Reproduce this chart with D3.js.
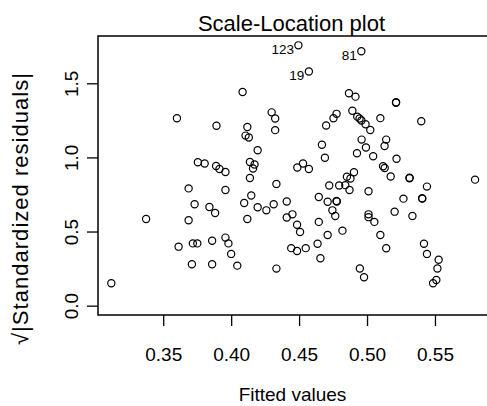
<!doctype html>
<html lang="en">
<head>
  <meta charset="utf-8">
  <title>Scale-Location plot</title>
  <style>
    body { margin: 0; background: #fff; }
    svg text { font-family: "Liberation Sans", Arial, sans-serif; fill: #000; }
    .pt { fill: none; stroke: #000; stroke-width: 1.2; }
  </style>
</head>
<body>
<div id="chart"></div>
<script src="https://d3js.org/d3.v7.min.js"></script>
<script>
  // fitted values (x) and sqrt(|standardized residuals|) (y)
  const fittedValues = [
    0.3118, 0.3374, 0.3601, 0.3613, 0.3687, 0.3687, 0.3711, 0.3718, 0.3751, 0.3731,
    0.3755, 0.3805, 0.3840, 0.3882, 0.3860, 0.3860, 0.3892, 0.3889, 0.3914, 0.3958,
    0.3958, 0.3958, 0.3980, 0.4000, 0.4045, 0.4084, 0.4096, 0.4106, 0.4130, 0.4119,
    0.4119, 0.4138, 0.4172, 0.4161, 0.4138, 0.4148, 0.4195, 0.4195, 0.4259, 0.4313,
    0.4298, 0.4324, 0.4324, 0.4333, 0.4333, 0.4409, 0.4409, 0.4451, 0.4442, 0.4485,
    0.4485, 0.4507, 0.4487, 0.4529, 0.4572, 0.4549, 0.4495, 0.4572, 0.4636, 0.4657,
    0.4645, 0.4645, 0.4668, 0.4690, 0.4699, 0.4710, 0.4710, 0.4722, 0.4745, 0.4766,
    0.4753, 0.4776, 0.4775, 0.4778, 0.4795, 0.4819, 0.4840, 0.4852, 0.4878, 0.4871,
    0.4867, 0.4915, 0.4892, 0.4904, 0.4926, 0.4928, 0.4945, 0.4959, 0.4958, 0.4960,
    0.4947, 0.4978, 0.4989, 0.4992, 0.5011, 0.5011, 0.5011, 0.5024, 0.5045, 0.5054,
    0.5098, 0.5098, 0.5118, 0.5130, 0.5129, 0.5141, 0.5141, 0.5174, 0.5203, 0.5214,
    0.5213, 0.5217, 0.5268, 0.5313, 0.5313, 0.5334, 0.5407, 0.5405, 0.5399, 0.5419,
    0.5441, 0.5441, 0.5486, 0.5510, 0.5518, 0.5527, 0.5795
  ];
  const sqrtStdResiduals = [
    0.151, 0.585, 1.264, 0.398, 0.791, 0.576, 0.279, 0.420, 0.420, 0.684,
    0.967, 0.959, 0.666, 0.625, 0.438, 0.279, 1.214, 0.942, 0.922, 0.902,
    0.780, 0.459, 0.420, 0.349, 0.270, 1.441, 0.693, 1.147, 1.134, 1.205,
    0.585, 0.969, 0.952, 0.925, 0.861, 0.743, 1.048, 0.664, 0.643, 0.684,
    1.304, 1.263, 1.184, 0.821, 0.250, 0.703, 0.595, 0.616, 0.388, 0.369,
    0.546, 0.497, 0.932, 0.959, 0.922, 0.388, 1.756, 1.580, 0.418, 0.320,
    0.733, 0.565, 1.085, 0.998, 1.215, 0.701, 0.477, 0.811, 0.643, 0.605,
    1.264, 1.294, 0.706, 0.702, 0.811, 0.506, 0.813, 0.870, 0.858, 0.780,
    1.433, 1.410, 1.315, 0.900, 1.028, 1.275, 1.262, 1.249, 1.716, 1.120,
    0.251, 0.192, 1.224, 1.067, 0.772, 0.616, 0.597, 1.185, 1.008, 0.565,
    1.265, 0.477, 0.940, 0.929, 1.077, 1.120, 0.387, 0.871, 0.634, 1.372,
    1.369, 0.991, 0.722, 0.859, 0.863, 0.605, 0.722, 0.725, 1.244, 0.418,
    0.803, 0.349, 0.151, 0.173, 0.251, 0.310, 0.850
  ];

  // the three labelled observations
  const idLabels = ['123', '19', '81'];
  const idFitted = [0.4495, 0.4572, 0.4958];
  const idResid = [1.756, 1.580, 1.716];

  // tick values
  const xTicks = [0.35, 0.40, 0.45, 0.50, 0.55];
  const yTicks = [0.0, 0.5, 1.0, 1.5];

  const width = 487;
  const height = 406;
  const plot = { left: 98, top: 36, right: 490, bottom: 315 };

  const svg = d3.select('#chart')
    .append('svg')
    .attr('width', width)
    .attr('height', height);

  const x = d3.scaleLinear()
    .domain([0.3020, 0.5905])
    .range([plot.left, plot.right]);

  const y = d3.scaleLinear()
    .domain([-0.063, 1.819])
    .range([plot.bottom, plot.top]);

  // x axis
  const xAxis = svg.append('g')
    .attr('transform', `translate(0,${plot.bottom})`)
    .call(d3.axisBottom(x).tickValues(xTicks).tickFormat(d3.format('.2f')).tickSize(11));
  xAxis.select('.domain').remove();
  xAxis.selectAll('line').attr('stroke', '#000').attr('stroke-width', 1.3);
  xAxis.selectAll('text')
    .attr('y', 46).attr('dy', 0)
    .style('font-size', '19px');

  // y axis, labels turned like R does
  const yAxis = svg.append('g')
    .attr('transform', `translate(${plot.left},0)`)
    .call(d3.axisLeft(y).tickValues(yTicks).tickFormat(d3.format('.1f')).tickSize(11));
  yAxis.select('.domain').remove();
  yAxis.selectAll('line').attr('stroke', '#000').attr('stroke-width', 1.3);
  yAxis.selectAll('text')
    .attr('transform', 'rotate(-90)')
    .attr('x', 0).attr('y', -20).attr('dy', 0)
    .attr('text-anchor', 'middle')
    .style('font-size', '19px');

  // plot box
  svg.append('rect')
    .attr('x', plot.left).attr('y', plot.top)
    .attr('width', plot.right - plot.left)
    .attr('height', plot.bottom - plot.top)
    .attr('fill', 'none').attr('stroke', '#000').attr('stroke-width', 1.5);

  // points
  svg.append('g')
    .selectAll('circle')
    .data(fittedValues)
    .join('circle')
    .attr('class', 'pt')
    .attr('cx', d => x(d))
    .attr('cy', (d, i) => y(sqrtStdResiduals[i]))
    .attr('r', 3.6);

  // id labels to the left of their points
  svg.append('g')
    .selectAll('text')
    .data(idLabels)
    .join('text')
    .attr('x', (d, i) => x(idFitted[i]) - 4.5)
    .attr('y', (d, i) => y(idResid[i]) + 8.6)
    .attr('text-anchor', 'end')
    .style('font-size', '13.5px')
    .text(d => d);

  // title and axis titles
  svg.append('text')
    .attr('x', 291.5).attr('y', 30.5)
    .attr('text-anchor', 'middle')
    .style('font-size', '22px')
    .text('Scale-Location plot');

  svg.append('text')
    .attr('x', 292.5).attr('y', 401)
    .attr('text-anchor', 'middle')
    .style('font-size', '19px')
    .text('Fitted values');

  svg.append('text')
    .attr('transform', 'translate(28,209) rotate(-90)')
    .attr('text-anchor', 'middle')
    .attr('textLength', 272)
    .attr('lengthAdjust', 'spacing')
    .style('font-size', '22px')
    .text('\u221A|Standardized residuals|');
</script>
</body>
</html>
